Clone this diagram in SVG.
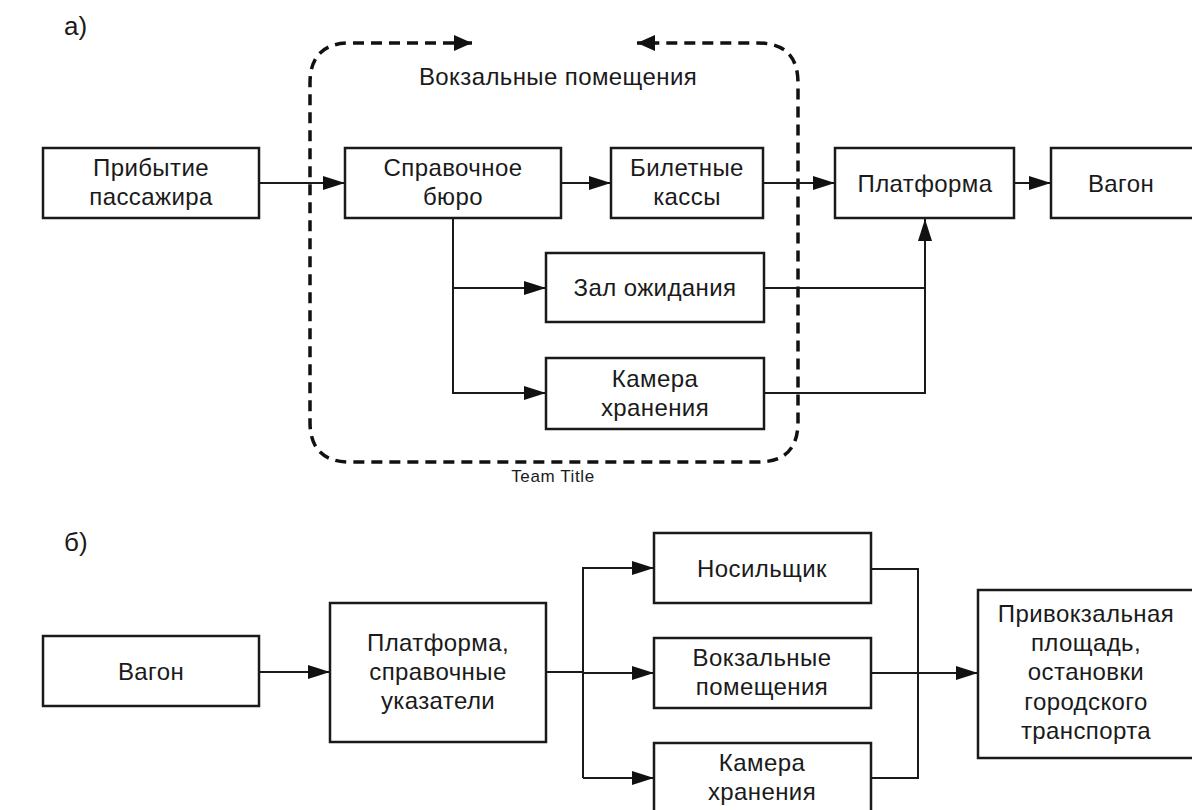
<svg xmlns="http://www.w3.org/2000/svg" width="1192" height="810" viewBox="0 0 1192 810">
<defs>
<style>
.box{fill:#fff;stroke:#1a1a1a;stroke-width:2.5}
.t{font-family:"Liberation Sans",Arial,sans-serif;font-size:24px;letter-spacing:0.4px;fill:#1a1a1a;text-anchor:middle}
.lbl{font-family:"Liberation Sans",Arial,sans-serif;font-size:26px;fill:#1a1a1a}
.small{font-family:"Liberation Sans",Arial,sans-serif;font-size:17px;letter-spacing:0.6px;fill:#1a1a1a;text-anchor:middle}
.c{fill:none;stroke:#1a1a1a;stroke-width:2}
.dash{fill:none;stroke:#111;stroke-width:3.5;stroke-dasharray:11 7}
</style>
<marker id="ah" markerUnits="userSpaceOnUse" markerWidth="24" markerHeight="14" refX="22" refY="7" orient="auto">
<path d="M0,0 L22,7 L0,14 z" fill="#111"/>
</marker>
<marker id="dh" markerUnits="userSpaceOnUse" markerWidth="20" markerHeight="16" refX="18" refY="8" orient="auto-start-reverse">
<path d="M0,0 L18,8 L0,16 z" fill="#111"/>
</marker>
</defs>
<rect width="1192" height="810" fill="#fff"/>

<text class="lbl" x="64" y="35">а)</text>
<text class="lbl" x="64" y="551">б)</text>

<g id="container">
<path class="dash" d="M472 43 H350 Q310 43 310 83 V422 Q310 462 350 462 H758 Q798 462 798 422 V83 Q798 43 758 43 H637" marker-start="url(#dh)" marker-end="url(#dh)"/>
<text class="t" x="558" y="85">Вокзальные помещения</text>
<text class="small" x="553" y="482">Team Title</text>
</g>

<g id="connectors">
<path class="c" d="M259 183 H345" marker-end="url(#ah)"/>
<path class="c" d="M561 183 H611" marker-end="url(#ah)"/>
<path class="c" d="M763 183 H835" marker-end="url(#ah)"/>
<path class="c" d="M1014 183 H1051" marker-end="url(#ah)"/>
<path class="c" d="M453 218 V393 H546" marker-end="url(#ah)"/>
<path class="c" d="M453 288 H546" marker-end="url(#ah)"/>
<path class="c" d="M764 288 H925"/>
<path class="c" d="M764 393 H925 V219" marker-end="url(#ah)"/>

<path class="c" d="M259 672 H330" marker-end="url(#ah)"/>
<path class="c" d="M546 672 H583"/>
<path class="c" d="M583 778 V568 H654" marker-end="url(#ah)"/>
<path class="c" d="M583 673 H654" marker-end="url(#ah)"/>
<path class="c" d="M583 778 H654" marker-end="url(#ah)"/>
<path class="c" d="M871 569 H918 V778 H871"/>
<path class="c" d="M871 673 H978" marker-end="url(#ah)"/>
</g>

<g id="n-arrival">
<rect class="box" x="43" y="148" width="216" height="70"/>
<text class="t" x="151" y="176">Прибытие</text>
<text class="t" x="151" y="205">пассажира</text>
</g>
<g id="n-info">
<rect class="box" x="345" y="148" width="216" height="70"/>
<text class="t" x="453" y="176">Справочное</text>
<text class="t" x="453" y="205">бюро</text>
</g>
<g id="n-tickets">
<rect class="box" x="611" y="148" width="152" height="70"/>
<text class="t" x="687" y="176">Билетные</text>
<text class="t" x="687" y="205">кассы</text>
</g>
<g id="n-platform">
<rect class="box" x="835" y="148" width="179" height="70"/>
<text class="t" x="925" y="192">Платформа</text>
</g>
<g id="n-wagon">
<rect class="box" x="1051" y="148" width="160" height="70"/>
<text class="t" x="1121" y="192">Вагон</text>
</g>
<g id="n-waiting">
<rect class="box" x="546" y="253" width="218" height="69"/>
<text class="t" x="655" y="296">Зал ожидания</text>
</g>
<g id="n-storage-a">
<rect class="box" x="546" y="358" width="218" height="71"/>
<text class="t" x="655" y="387">Камера</text>
<text class="t" x="655" y="416">хранения</text>
</g>

<g id="n-wagon-b">
<rect class="box" x="43" y="636" width="216" height="70"/>
<text class="t" x="151" y="680">Вагон</text>
</g>
<g id="n-platform-b">
<rect class="box" x="330" y="603" width="216" height="139"/>
<text class="t" x="438" y="651">Платформа,</text>
<text class="t" x="438" y="680">справочные</text>
<text class="t" x="438" y="709">указатели</text>
</g>
<g id="n-porter">
<rect class="box" x="654" y="533" width="217" height="70"/>
<text class="t" x="762" y="577">Носильщик</text>
</g>
<g id="n-rooms">
<rect class="box" x="654" y="638" width="217" height="70"/>
<text class="t" x="762" y="666">Вокзальные</text>
<text class="t" x="762" y="695">помещения</text>
</g>
<g id="n-storage-b">
<rect class="box" x="654" y="743" width="217" height="80"/>
<text class="t" x="762" y="771">Камера</text>
<text class="t" x="762" y="800">хранения</text>
</g>
<g id="n-square">
<rect class="box" x="978" y="590" width="230" height="168"/>
<text class="t" x="1086" y="622">Привокзальная</text>
<text class="t" x="1086" y="651">площадь,</text>
<text class="t" x="1086" y="680">остановки</text>
<text class="t" x="1086" y="710">городского</text>
<text class="t" x="1086" y="739">транспорта</text>
</g>
</svg>
